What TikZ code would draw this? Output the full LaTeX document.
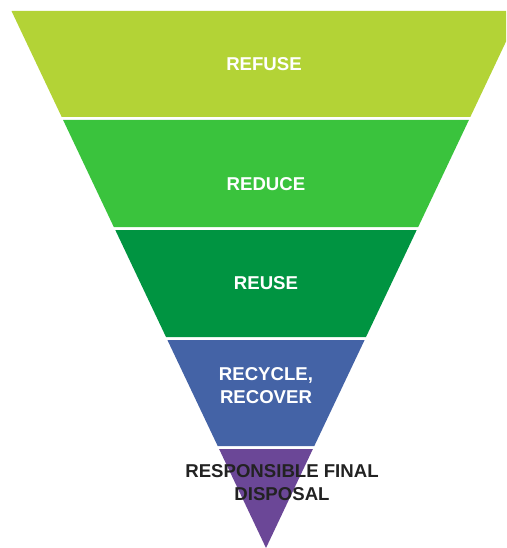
\documentclass[tikz,border=0pt]{standalone}
\usepackage{fontspec}
\setmainfont{Liberation Sans}
\definecolor{cRefuse}{HTML}{B3D336}
\definecolor{cReduce}{HTML}{3AC33D}
\definecolor{cReuse}{HTML}{009441}
\definecolor{cRecycle}{HTML}{4463A6}
\definecolor{cDisposal}{HTML}{6B4797}
\definecolor{cDark}{HTML}{222222}
\tikzset{
  lbl/.style={font=\fontsize{18.6}{23}\selectfont\bfseries, text=white, align=center, inner sep=0pt},
  lbldark/.style={lbl, text=cDark}
}
\begin{document}
\begin{tikzpicture}[x=1pt,y=-1pt]
\useasboundingbox (0,0) rectangle (506,548);
\begin{scope}
\clip (0,0) rectangle (506,548);
\fill[cRefuse] (11.5,11) -- (520.5,11) -- (470.3,117) -- (61.7,117) -- cycle;
\fill[cReduce] (63.1,120) -- (468.9,120) -- (418.2,227) -- (113.8,227) -- cycle;
\fill[cReuse] (115.3,230) -- (416.7,230) -- (366,337) -- (166,337) -- cycle;
\fill[cRecycle] (167.4,340) -- (364.6,340) -- (314.3,446) -- (217.7,446) -- cycle;
\fill[cDisposal] (219.1,449) -- (312.9,449) -- (266,548) -- cycle;
\end{scope}
\node[lbl] (refuse) at (264,64) {REFUSE};
\node[lbl] (reduce) at (266,184) {REDUCE};
\node[lbl] (reuse) at (266,283) {REUSE};
\node[lbl] (recycle) at (266,386) {RECYCLE,\\RECOVER};
\node[lbldark] (disposal) at (282,483) {RESPONSIBLE FINAL\\DISPOSAL};
\end{tikzpicture}
\end{document}
